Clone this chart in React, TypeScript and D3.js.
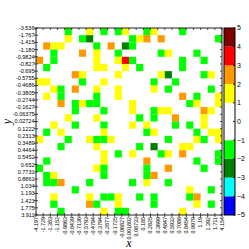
import React from "react";
import * as d3 from "d3";

// Bin edges (tick labels)
const xEdges = ["-4.197","-1.729","-1.383","-1.152","-0.9863","-0.8439","-0.7136","-0.5793","-0.4794","-0.3794","-0.2877","-0.1725","-0.06827","0.001802","0.08733","0.185","0.2825","0.3699","0.4847","0.5932","0.7088","0.8454","0.9979","1.19","1.392","1.711","4.154"];
const yEdges = ["-3.536","-1.767","-1.415","-1.180","-0.9824","-0.827","-0.695","-0.5755","-0.4686","-0.3805","-0.2744","-0.1627","-0.06375","0.02724","0.1222","0.2313","0.3489","0.4464","0.5452","0.652","0.7731","0.8861","1.034","1.193","1.423","1.775","3.911"];

// Cell values per row: "colCode" entries; codes map to values below
const codeValue: Record<string, number> = { Y: 1.5, O: 2.5, R: 3.5, K: 4.5, G: -1.5, D: -2.5, C: -3.5, B: -4.5 };
const rowCells = [
  "4G 7Y 9G 11G 12Y 15G 16Y 20G",
  "4Y 6G 7D 13G 14Y 15O 17O 25G",
  "1O 2Y 3Y 8G 10O 12D 13G",
  "2G 6O 8Y 11G 17G 18Y 22G",
  "0O 2G 8Y 11Y 12R 13G 20G 23G",
  "1G 8Y 9Y 12Y 14G 20G",
  "5O 6Y 11Y 17Y 18D 23G 24Y",
  "0Y 1Y 6G 9Y 16G 19G",
  "2Y 3G 5O 8Y 11Y 16Y 18G 24G",
  "1Y 3G 8G 11Y 20O 22G 25Y",
  "3O 5G 6Y 7G 8G 13Y 21G 22Y 25Y",
  "5G 9G 13Y 16G 17Y 18Y 23O 24Y",
  "4Y 8Y 14G 16G 19O 23Y",
  "2Y 5G 9G 13Y 15Y 19G 21G 23Y",
  "1G 3Y 9Y 15G 16Y 22G 24Y 25Y",
  "0Y 4G 7Y 8G 9G 10Y 18G 22Y 23G 25Y",
  "3G 8Y 14G 16D 20Y 21Y",
  "9Y 11G 13Y 17G 18Y 20O 25G",
  "1G 9Y 15O 22G 25G",
  "0G 8Y 9G 15G 18O 23G",
  "1G 2Y 9G 15G 16O",
  "1G 2G 3O 7G 13G 15Y 18G",
  "5G 21Y 24G",
  "2Y 7Y 9G 10G 11Y 14G 16G 21G 22O",
  "2G 7O 8G 11Y 16G 22Y 24G",
  "3G 9Y 11G 12G 20Y",
];

const colorThresholds = [-4, -3, -2, -1, 1, 2, 3, 4];
const colorRange = ["#0000ff", "#00ffff", "#008000", "#00ff00", "#ffffff", "#ffff00", "#ff9900", "#ff0000", "#800000"];
const cbarTicks = [5, 4, 3, 2, 1, 0, -1, -2, -3, -4, -5];

type Cell = { r: number; c: number; v: number };
const cells: Cell[] = [];
rowCells.forEach((s, r) => {
  s.split(" ").filter(Boolean).forEach((t) => {
    const c = parseInt(t, 10);
    const code = t.replace(/[0-9]/g, "");
    cells.push({ r, c, v: codeValue[code] });
  });
});

export default function App() {
  const W = 249, H = 249;
  const L = 36, R = 222, T = 28, B = 215;
  const n = xEdges.length - 1;
  const m = yEdges.length - 1;
  const x = d3.scaleLinear().domain([0, n]).range([L, R]);
  const y = d3.scaleLinear().domain([0, m]).range([T, B]);
  const color = d3.scaleThreshold<number, string>().domain(colorThresholds).range(colorRange);
  const cbX = 224, cbW = 11;
  const cy = d3.scaleLinear().domain([-5, 5]).range([B, T]);
  const bands = d3.range(-5, 5).map((v) => v + 0.5);
  const fmt = d3.format("d");
  const tickFont = "'Liberation Sans', Arial, sans-serif";
  const axisColor = "#222";

  return (
    <svg width={W} height={H} style={{ position: "fixed", left: 0, top: 0, background: "#fff" }}>
      <rect x={0} y={0} width={W} height={H} fill="#fff" />
      {cells.map((d, i) => (
        <rect key={i} x={x(d.c)} y={y(d.r)} width={x(d.c + 1) - x(d.c)} height={y(d.r + 1) - y(d.r)} fill={color(d.v)} />
      ))}
      <rect x={L} y={T} width={R - L} height={B - T} fill="none" stroke={axisColor} strokeWidth={1} />
      {/* y ticks and labels */}
      {yEdges.map((lab, i) => (
        <g key={"y" + i}>
          <line x1={L - 2} x2={L + 2} y1={y(i)} y2={y(i)} stroke={axisColor} strokeWidth={0.8} />
          <line x1={R - 2} x2={R} y1={y(i)} y2={y(i)} stroke={axisColor} strokeWidth={0.8} />
          <text x={L - 1.5} y={y(i)} dy="0.35em" textAnchor="end" fontSize={5.5} fontFamily={tickFont} fill="#000">{lab}</text>
        </g>
      ))}
      {/* x ticks and labels */}
      {xEdges.map((lab, i) => (
        <g key={"x" + i}>
          <line x1={x(i)} x2={x(i)} y1={B - 2} y2={B + 2} stroke={axisColor} strokeWidth={0.8} />
          <line x1={x(i)} x2={x(i)} y1={T} y2={T + 2} stroke={axisColor} strokeWidth={0.8} />
          <text transform={`translate(${x(i)},${B + 2}) rotate(-90)`} dy="0.35em" textAnchor="end" fontSize={5.4} fontFamily={tickFont} fill="#000">{lab}</text>
        </g>
      ))}
      <text x={(L + R) / 2} y={247} textAnchor="middle" fontSize={12} fontStyle="italic" fontFamily="'Liberation Serif', 'DejaVu Serif', serif">x</text>
      <text transform={`translate(10.5,${(T + B) / 2}) rotate(-90)`} textAnchor="middle" fontSize={12} fontStyle="italic" fontFamily="'Liberation Serif', 'DejaVu Serif', serif">y</text>
      {/* colorbar */}
      {bands.map((v, i) => (
        <rect key={"cb" + i} x={cbX} y={cy(v + 0.5)} width={cbW} height={cy(v - 0.5) - cy(v + 0.5)} fill={color(v)} />
      ))}
      <rect x={cbX} y={T} width={cbW} height={B - T} fill="none" stroke="#000" strokeWidth={1} />
      {cbarTicks.map((t) => (
        <g key={"ct" + t}>
          <line x1={cbX + cbW - 2} x2={cbX + cbW} y1={cy(t)} y2={cy(t)} stroke="#000" strokeWidth={0.8} />
          <text x={cbX + cbW + 2} y={cy(t)} dy="0.35em" fontSize={7} fontFamily={tickFont} fill="#000">{t < 0 ? "\u2212" + fmt(-t) : fmt(t)}</text>
        </g>
      ))}
    </svg>
  );
}
